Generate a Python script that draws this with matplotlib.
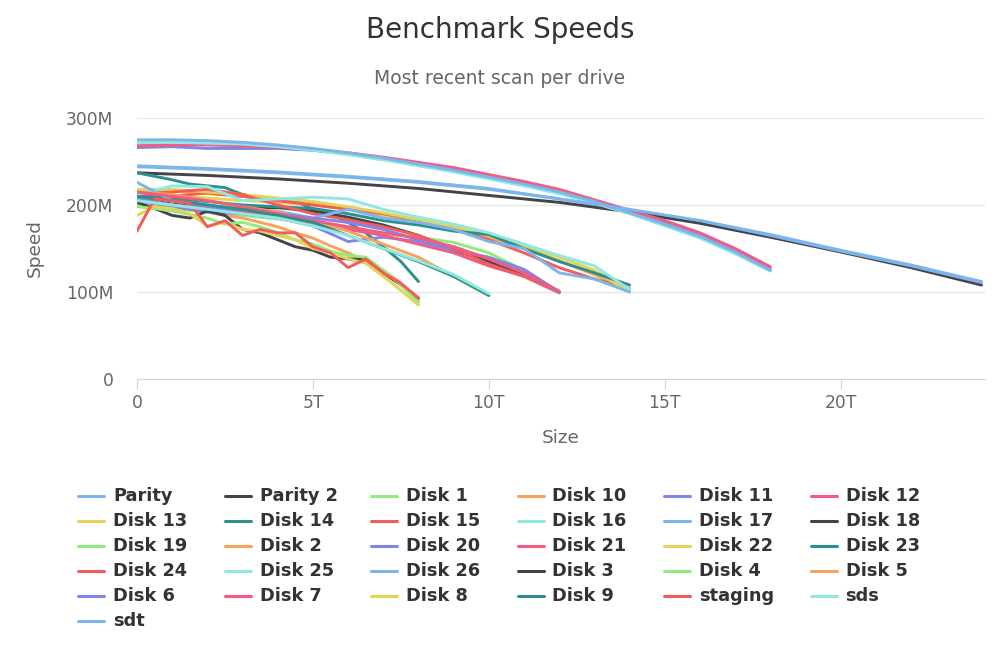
import matplotlib
matplotlib.use('Agg')
import matplotlib.pyplot as plt
from matplotlib.lines import Line2D
from matplotlib.ticker import FuncFormatter, MultipleLocator

# Highcharts default palette, cycled in series order
palette = ['#7cb5ec', '#434348', '#90ed7d', '#f7a35c', '#8085e9',
           '#f15c80', '#e4d354', '#2b908f', '#f45b5b', '#91e8e1']

# x positions (TB) per drive size
x_24t = [0, 2, 4, 6, 8, 10, 12, 14, 16, 18, 20, 22, 24]
x_18t = list(range(0, 19))
x_14t = list(range(0, 15))
x_12t = list(range(0, 13))
x_10t = list(range(0, 11))
x_8t = [0, 0.5, 1, 1.5, 2, 2.5, 3, 3.5, 4, 4.5, 5, 5.5, 6, 6.5, 7, 7.5, 8]

# speeds in MB/s
parity = [245, 242, 238, 233, 227, 219, 207, 194, 182, 166, 148, 131, 112]
parity2 = [237, 234, 230, 225, 219, 211, 203, 192, 179, 163, 146, 128, 108]
sdt = [244, 241, 237, 232, 226, 218, 207, 195, 182, 165, 147, 130, 111]

disk1 = [270, 270, 270, 269, 266, 263, 258, 252, 246, 239, 231, 223, 214, 203, 191, 177, 163, 145, 125]
disk11 = [266, 267, 265, 265, 265, 263, 259, 254, 248, 241, 233, 225, 216, 205, 192, 179, 165, 147, 126]
disk12 = [268, 269, 269, 268, 266, 264, 260, 255, 249, 243, 235, 227, 218, 206, 194, 182, 168, 150, 129]
disk16 = [272, 272, 271, 270, 267, 263, 258, 252, 245, 238, 230, 222, 213, 202, 190, 176, 162, 144, 124]
disk17 = [275, 275, 274, 272, 269, 265, 260, 254, 247, 240, 232, 224, 215, 204, 191, 178, 164, 146, 125]

disk10 = [215, 216, 213, 210, 206, 202, 197, 190, 182, 173, 163, 150, 136, 120, 102]
disk13 = [205, 212, 208, 205, 203, 200, 196, 188, 180, 172, 165, 152, 140, 125, 102]
disk15 = [212, 210, 214, 210, 205, 200, 195, 190, 182, 172, 160, 145, 128, 115, 104]
disk22 = [218, 218, 215, 212, 208, 204, 198, 191, 183, 175, 166, 154, 141, 124, 100]
disk23 = [210, 207, 204, 200, 198, 196, 190, 182, 177, 170, 166, 150, 135, 122, 108]
disk25 = [212, 222, 221, 205, 207, 209, 207, 195, 186, 178, 168, 155, 142, 130, 103]
disk26 = [226, 205, 200, 195, 193, 185, 195, 185, 180, 172, 158, 150, 122, 115, 100]

disk18 = [208, 201, 197, 196, 197, 193, 186, 177, 165, 148, 135, 120, 100]
disk19 = [200, 196, 192, 188, 184, 178, 172, 167, 163, 157, 145, 125, 100]
disk20 = [205, 198, 192, 190, 185, 176, 158, 163, 158, 148, 140, 126, 100]
disk21 = [212, 205, 198, 192, 186, 180, 172, 165, 155, 145, 130, 118, 99]
disk6 = [208, 200, 196, 195, 190, 185, 180, 172, 160, 152, 138, 122, 100]
disk7 = [215, 210, 205, 198, 190, 182, 175, 168, 162, 152, 138, 122, 101]
disk24 = [212, 215, 218, 212, 200, 190, 183, 175, 165, 150, 132, 118, 100]

disk5 = [215, 212, 205, 198, 192, 182, 170, 155, 140, 118, 96]
disk9 = [210, 205, 200, 195, 188, 180, 165, 150, 135, 118, 96]
sds = [205, 200, 195, 190, 185, 176, 165, 150, 136, 120, 98]

disk2 = [205, 202, 200, 196, 192, 188, 185, 180, 175, 168, 162, 153, 145, 135, 125, 110, 90]
disk3 = [203, 196, 188, 185, 193, 188, 172, 168, 160, 152, 148, 140, 138, 138, 122, 108, 93]
disk4 = [198, 196, 193, 189, 185, 178, 180, 175, 168, 160, 155, 147, 142, 140, 125, 108, 88]
disk8 = [188, 198, 196, 190, 176, 180, 172, 170, 165, 160, 150, 145, 138, 133, 118, 102, 85]
disk14 = [237, 233, 229, 224, 222, 220, 212, 207, 206, 205, 195, 190, 180, 168, 152, 135, 112]
staging = [170, 207, 205, 202, 175, 182, 165, 172, 168, 168, 152, 145, 128, 138, 122, 110, 93]

series = [
    ('Parity', x_24t, parity), ('Parity 2', x_24t, parity2),
    ('Disk 1', x_18t, disk1), ('Disk 10', x_14t, disk10),
    ('Disk 11', x_18t, disk11), ('Disk 12', x_18t, disk12),
    ('Disk 13', x_14t, disk13), ('Disk 14', x_8t, disk14),
    ('Disk 15', x_14t, disk15), ('Disk 16', x_18t, disk16),
    ('Disk 17', x_18t, disk17), ('Disk 18', x_12t, disk18),
    ('Disk 19', x_12t, disk19), ('Disk 2', x_8t, disk2),
    ('Disk 20', x_12t, disk20), ('Disk 21', x_12t, disk21),
    ('Disk 22', x_14t, disk22), ('Disk 23', x_14t, disk23),
    ('Disk 24', x_12t, disk24), ('Disk 25', x_14t, disk25),
    ('Disk 26', x_14t, disk26), ('Disk 3', x_8t, disk3),
    ('Disk 4', x_8t, disk4), ('Disk 5', x_10t, disk5),
    ('Disk 6', x_12t, disk6), ('Disk 7', x_12t, disk7),
    ('Disk 8', x_8t, disk8), ('Disk 9', x_10t, disk9),
    ('staging', x_8t, staging), ('sds', x_10t, sds),
    ('sdt', x_24t, sdt),
]

W, H = 1000, 666
fig = plt.figure(figsize=(10, 6.66), dpi=100)
ax = fig.add_axes([137 / W, 1 - 379 / H, 848 / W, 261 / H])

for i, (name, xs, ys) in enumerate(series):
    ax.plot(xs, ys, color=palette[i % 10], lw=2.1, solid_capstyle='round',
            solid_joinstyle='round')

ax.set_xlim(0, 24.1)
ax.set_ylim(0, 300)
ax.yaxis.set_major_locator(MultipleLocator(100))
ax.xaxis.set_major_locator(MultipleLocator(5))
ax.yaxis.set_major_formatter(FuncFormatter(lambda v, p: '0' if v == 0 else f'{v:.0f}M'))
ax.xaxis.set_major_formatter(FuncFormatter(lambda v, p: '0' if v == 0 else f'{v:.0f}T'))

ax.grid(axis='y', color='#e6e6e6', lw=1)
ax.set_axisbelow(True)
for s in ['top', 'right', 'left']:
    ax.spines[s].set_visible(False)
ax.spines['bottom'].set_color('#ccd6eb')
ax.tick_params(axis='y', length=0, pad=17, labelsize=12.3, labelcolor='#666666')
ax.tick_params(axis='x', length=7, color='#ccd6eb', pad=4, labelsize=12.3, labelcolor='#666666')

ax.set_ylabel('Speed', fontsize=13.3, color='#666666')
ax.set_xlabel('Size', fontsize=13.3, color='#666666')
ax.yaxis.set_label_coords(-0.11, 0.5)
ax.xaxis.set_label_coords(0.5, -0.19)

fig.text(0.5, 1 - 30 / H, 'Benchmark Speeds', ha='center', va='center',
         fontsize=20, color='#333333')
fig.text(0.5, 1 - 79 / H, 'Most recent scan per drive', ha='center', va='center',
         fontsize=13.5, color='#666666')

# legend, filled row by row like the original
for i, (name, xs, ys) in enumerate(series):
    row, col = divmod(i, 6)
    y = 1 - (496 + 25 * row) / H
    x0 = (78 + 146.5 * col) / W
    fig.add_artist(Line2D([x0, x0 + 26 / W], [y, y], transform=fig.transFigure,
                          color=palette[i % 10], lw=2.2, solid_capstyle='round'))
    fig.text(x0 + 35 / W, y, name, ha='left', va='center', fontsize=12.8,
             fontweight='bold', color='#333333')

fig.savefig('out.png', dpi=100)
